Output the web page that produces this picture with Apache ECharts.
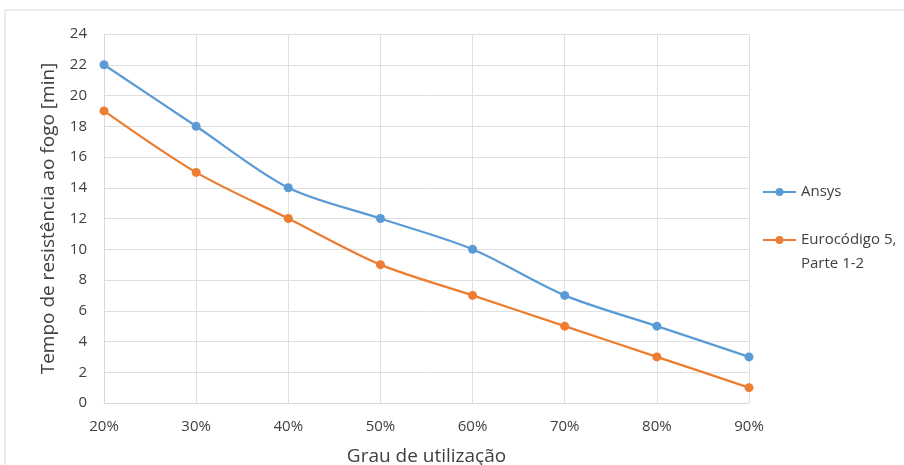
<!DOCTYPE html>
<html><head><meta charset="utf-8">
<script src="https://cdn.jsdelivr.net/npm/echarts@6/dist/echarts.min.js"></script>
<style>html,body{margin:0;padding:0;background:#fff}#c{width:904px;height:465px}</style>
</head><body><div id="c"></div>
<script>
const categories = ['20%','30%','40%','50%','60%','70%','80%','90%'];
const ansys = [22,18,14,12,10,7,5,3];
const eurocodigo = [19,15,12,9,7,5,3,1];
const seriesNames = ['Ansys','Eurocódigo 5,\nParte 1-2'];
const font = 'Open Sans, Noto Sans, sans-serif';
const chart = echarts.init(document.getElementById('c'));
chart.setOption({
  animation:false,
  backgroundColor:'#fff',
  graphic:[{type:'rect',shape:{x:5,y:10,width:920,height:480},style:{fill:'none',stroke:'#d9d9d9',lineWidth:1},z:-1}],
  grid:{left:104,top:34,width:645,height:369,outerBoundsMode:'none',containLabel:false},
  legend:{orient:'vertical',left:762,top:180,padding:0,itemGap:0,itemWidth:33,itemHeight:10,
    textStyle:{fontFamily:font,fontSize:15,color:'#404040',lineHeight:24},
    formatter:n => n.indexOf('\n') >= 0 ? ' \n' + n : n,
    data:seriesNames},
  xAxis:{type:'category',data:categories,boundaryGap:false,
    axisLine:{lineStyle:{color:'#d9d9d9'}},axisTick:{show:false},
    axisLabel:{fontFamily:font,fontSize:15,color:'#404040',margin:16},
    splitLine:{show:true,lineStyle:{color:'#e0e0e0'}},
    name:'Grau de utilização',nameLocation:'middle',nameGap:44,
    nameTextStyle:{fontFamily:font,fontSize:19,color:'#404040'}},
  yAxis:{type:'value',min:0,max:24,interval:2,
    axisLine:{show:true,lineStyle:{color:'#d9d9d9'}},axisTick:{show:false},
    axisLabel:{fontFamily:font,fontSize:15,color:'#404040',margin:17},
    splitLine:{lineStyle:{color:'#e0e0e0'}},
    name:'Tempo de resistência ao fogo [min]',nameLocation:'middle',nameGap:46,
    nameTextStyle:{fontFamily:font,fontSize:19,color:'#404040'}},
  series:[
    {name:seriesNames[0],type:'line',data:ansys,smooth:0.3,symbol:'circle',symbolSize:9,
      itemStyle:{color:'#5b9bd5'},lineStyle:{width:2.25,color:'#5b9bd5'}},
    {name:seriesNames[1],type:'line',data:eurocodigo,smooth:0.3,symbol:'circle',symbolSize:9,
      itemStyle:{color:'#ed7d31'},lineStyle:{width:2.25,color:'#ed7d31'}}
  ]
});
</script></body></html>
